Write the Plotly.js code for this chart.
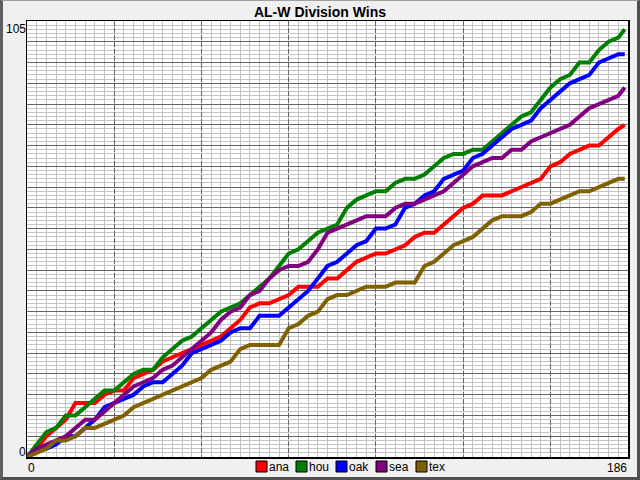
<!DOCTYPE html>
<html>
<head>
<meta charset="utf-8">
<script src="https://cdn.plot.ly/plotly-3.0.1.min.js"></script>
<style>
  html, body { margin: 0; padding: 0; background: #f0f0f0; }
  #chart {
    width: 634px; height: 476px;
    border-style: solid;
    border-width: 1px 3px 3px 3px;
    border-color: #a0a0a0 #505050 #505050 #606060;
  }
</style>
</head>
<body>
<div id="chart"></div>
<script>
/* AL West 2018: cumulative wins by day of season. */

// Day of season, read every 3 days (last point is the final day).
const days = [0, 3, 6, 9, 12, 15, 18, 21, 24, 27, 30, 33, 36, 39, 42, 45, 48, 51, 54, 57,
  60, 63, 66, 69, 72, 75, 78, 81, 84, 87, 90, 93, 96, 99, 102, 105, 108, 111, 114, 117,
  120, 123, 126, 129, 132, 135, 138, 141, 144, 147, 150, 153, 156, 159, 162, 165, 168, 171, 174, 177,
  180, 183, 185];

const ana = [0, 2, 5, 7, 9, 13, 13, 13, 15, 16, 16, 19, 20, 21, 23, 24, 25, 26, 27, 28,
  29, 31, 33, 36, 37, 37, 38, 39, 41, 41, 41, 43, 43, 45, 47, 48, 49, 49, 50, 51,
  53, 54, 54, 56, 58, 60, 61, 63, 63, 63, 64, 65, 66, 67, 70, 71, 73, 74, 75, 75,
  77, 79, 80];
const hou = [0, 3, 6, 7, 10, 10, 12, 14, 16, 16, 18, 20, 21, 21, 24, 26, 28, 29, 31, 33,
  35, 36, 37, 39, 41, 43, 46, 49, 50, 52, 54, 55, 56, 60, 62, 63, 64, 64, 66, 67,
  67, 68, 70, 72, 73, 73, 74, 74, 76, 78, 80, 82, 83, 86, 89, 91, 92, 95, 95, 98,
  100, 101, 103];
const oak = [0, 2, 2, 3, 5, 5, 7, 9, 12, 13, 14, 15, 17, 18, 18, 20, 22, 25, 26, 27,
  28, 30, 31, 31, 34, 34, 34, 36, 38, 40, 43, 46, 47, 49, 51, 52, 55, 55, 56, 60,
  61, 63, 64, 67, 68, 69, 72, 73, 75, 77, 79, 80, 81, 84, 86, 88, 90, 91, 92, 95,
  96, 97, 97];
const sea = [0, 2, 3, 4, 5, 7, 9, 9, 11, 13, 15, 17, 18, 19, 21, 22, 24, 26, 28, 30,
  33, 35, 36, 39, 40, 43, 45, 46, 46, 47, 50, 54, 55, 56, 57, 58, 58, 58, 60, 61,
  61, 62, 63, 64, 66, 68, 70, 71, 72, 72, 74, 74, 76, 77, 78, 79, 80, 82, 84, 85,
  86, 87, 89];
const tex = [0, 1, 2, 4, 4, 5, 7, 7, 8, 9, 10, 12, 13, 14, 15, 16, 17, 18, 19, 21,
  22, 23, 26, 27, 27, 27, 27, 31, 32, 34, 35, 38, 39, 39, 40, 41, 41, 41, 42, 42,
  42, 46, 47, 49, 51, 52, 53, 55, 57, 58, 58, 58, 59, 61, 61, 62, 63, 64, 64, 65,
  66, 67, 67];

const teams = ["ana", "hou", "oak", "sea", "tex"];
const teamWins = [ana, hou, oak, sea, tex];
const teamColors = ["#ff0000", "#008000", "#0000ff", "#800080", "#806000"];

const xRange = [0, 186];
const yRange = [0, 105];

// Plot area geometry inside the bordered div (634 x 476).
const W = 634, H = 476;
const M = { l: 24, r: 9, t: 20, b: 20 };
const PW = W - M.l - M.r, PH = H - M.t - M.b;
const pxX = (px) => (px - M.l) / PW;
const pxY = (py) => 1 - (py - M.t) / PH;

const LABEL_FONT = { family: "Liberation Sans, Arial, sans-serif", size: 12, color: "#000" };
const LIGHT_GRID = "#c4c4c4";
const DARK_GRID = "#646464";

const traces = teams.map((t, i) => ({
  x: days,
  y: teamWins[i],
  type: "scatter",
  mode: "lines",
  name: t,
  line: { color: teamColors[i], width: 4 },
  showlegend: false,
  hoverinfo: "skip",
}));

// Axis end labels (only the extremes are labelled).
const annotations = [
  { xref: "x", yref: "paper", x: xRange[0], y: pxY(H - M.b + 3), xanchor: "left", yanchor: "top", text: String(xRange[0]) },
  { xref: "x", yref: "paper", x: xRange[1], y: pxY(H - M.b + 3), xanchor: "right", yanchor: "top", text: String(xRange[1]) },
  { xref: "paper", yref: "y", x: pxX(M.l), y: yRange[1], xanchor: "right", yanchor: "top", text: String(yRange[1]) },
  { xref: "paper", yref: "y", x: pxX(M.l), y: yRange[0], xanchor: "right", yanchor: "bottom", yshift: -3, text: String(yRange[0]) },
].map((a) => Object.assign({ showarrow: false, font: LABEL_FONT, borderpad: 0 }, a));

// Hand-built legend: colored square + name, 40px pitch along the bottom.
const shapes = [];
teams.forEach((t, i) => {
  const x0 = 253 + 40 * i;
  shapes.push({
    type: "rect", xref: "paper", yref: "paper",
    x0: pxX(x0), x1: pxX(x0 + 11), y0: pxY(460), y1: pxY(471),
    fillcolor: teamColors[i], line: { color: "#000", width: 1 },
  });
  annotations.push({
    xref: "paper", yref: "paper", x: pxX(x0 + 12), y: pxY(466),
    xanchor: "left", yanchor: "middle", text: t, showarrow: false,
    font: LABEL_FONT, borderpad: 0,
  });
});

const hiddenTicks = { showticklabels: false, ticks: "", zeroline: false };

const layout = {
  width: W,
  height: H,
  margin: M,
  paper_bgcolor: "#f0f0f0",
  plot_bgcolor: "#ffffff",
  showlegend: false,
  title: {
    text: "AL-W Division Wins",
    x: 0.5, xref: "container", xanchor: "center",
    y: 1 - 11 / H, yref: "container", yanchor: "middle",
    font: { family: "Liberation Sans, Arial, sans-serif", size: 14, color: "#000", weight: "bold" },
  },
  // every 3 days: light grid
  xaxis: Object.assign({
    range: xRange, dtick: 3, tick0: 0,
    showgrid: true, gridcolor: LIGHT_GRID, gridwidth: 1,
    showline: true, mirror: true, linecolor: "#000", linewidth: 1.5,
  }, hiddenTicks),
  // every 27 days: dashed dark grid
  xaxis2: Object.assign({
    range: xRange, dtick: 27, tick0: 0, overlaying: "x",
    showgrid: true, gridcolor: DARK_GRID, gridwidth: 1, griddash: "5px,2px",
    showline: false,
  }, hiddenTicks),
  yaxis: Object.assign({
    range: yRange, dtick: 5, tick0: 0,
    showgrid: true, gridcolor: DARK_GRID, gridwidth: 1,
    minor: { dtick: 1, tick0: 0, showgrid: true, gridcolor: LIGHT_GRID, gridwidth: 1 },
    showline: true, mirror: true, linecolor: "#000", linewidth: 1.5,
  }, hiddenTicks),
  annotations,
  shapes,
};

// invisible trace so the 27-day overlay axis is laid out
traces.unshift({ x: xRange, y: yRange, xaxis: "x2", type: "scatter", mode: "none", showlegend: false, hoverinfo: "skip" });

Plotly.newPlot("chart", traces, layout, { displayModeBar: false, staticPlot: true });
</script>
</body>
</html>
